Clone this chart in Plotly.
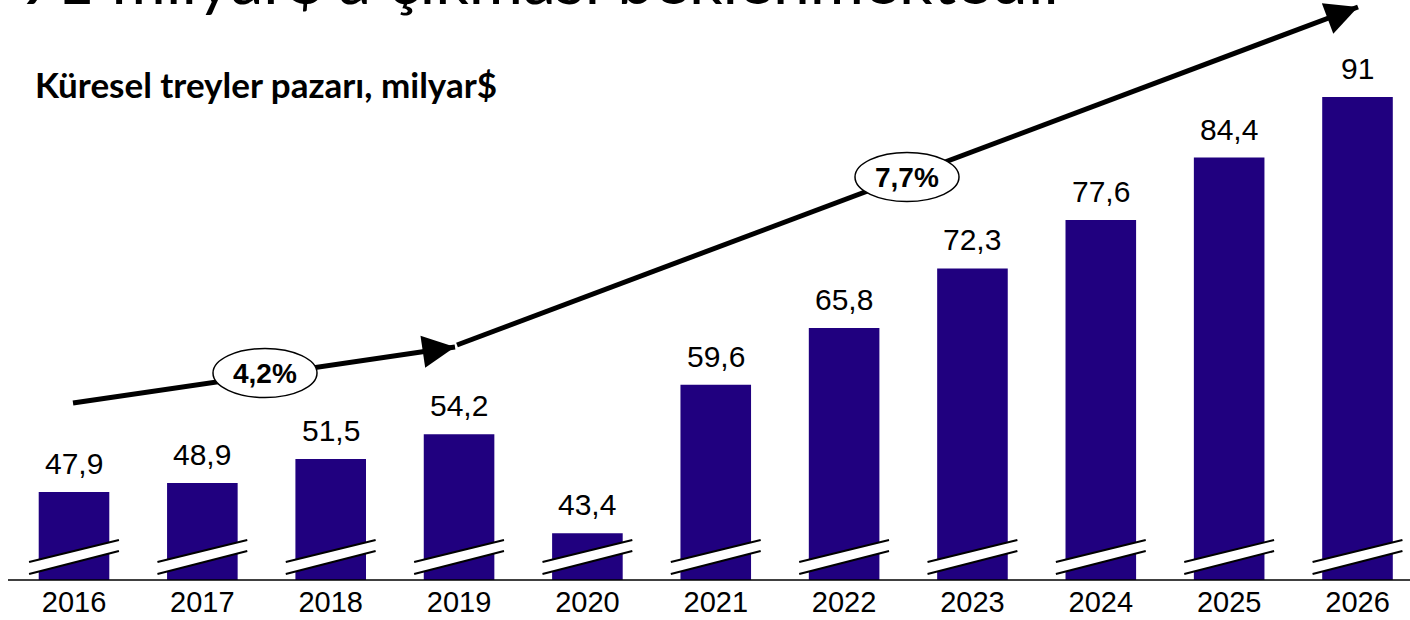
import math
import plotly.graph_objects as go

# ---- data ----
years = ["2016", "2017", "2018", "2019", "2020", "2021", "2022", "2023", "2024", "2025", "2026"]
values = [47.9, 48.9, 51.5, 54.2, 43.4, 59.6, 65.8, 72.3, 77.6, 84.4, 91.0]
value_labels = ["47,9", "48,9", "51,5", "54,2", "43,4", "59,6", "65,8", "72,3", "77,6", "84,4", "91"]
cagr_labels = ["4,2%", "7,7%"]
title_text = "91 milyar$'a çıkması beklenmektedir"
subtitle_text = "Küresel treyler pazarı, milyar$"

# ---- layout constants ----
W, H = 1410, 620
PLOT_H = 580            # plot area spans pixel rows 0..580
Y_MIN, Y_MAX = 38.3, 101.6
BAR_COLOR = "#20007f"
NUM_FONT = "Liberation Sans, Arial, sans-serif"
TXT_FONT = "Lato, Open Sans, sans-serif"


def px(x):
    return x / W


def py(y):
    return 1 - y / PLOT_H


fig = go.Figure()
fig.add_trace(go.Bar(
    x=list(range(len(years))), y=values, marker=dict(color=BAR_COLOR, line=dict(width=0)),
    width=0.55, hoverinfo="skip", showlegend=False,
))

shapes = []
annotations = []

# broken-axis marks on each bar
half = 0.35
for i in range(len(years)):
    top_l, top_r = 40.26, 42.66
    bot_l, bot_r = 38.95, 41.46
    shapes.append(dict(type="path", xref="x", yref="y",
                       path=f"M {i-half},{bot_l} L {i+half},{bot_r} L {i+half},{top_r} L {i-half},{top_l} Z",
                       fillcolor="white", line=dict(width=0), layer="above"))
    shapes.append(dict(type="line", xref="x", yref="y", x0=i-half, y0=top_l, x1=i+half, y1=top_r,
                       line=dict(color="black", width=2), layer="above"))
    shapes.append(dict(type="line", xref="x", yref="y", x0=i-half, y0=bot_l, x1=i+half, y1=bot_r,
                       line=dict(color="black", width=2), layer="above"))

# baseline axis line
shapes.append(dict(type="line", xref="paper", yref="paper", x0=px(8), x1=1, y0=0, y1=0,
                   line=dict(color="black", width=1.5), layer="above"))

# trend arrow lines
seg1 = (73, 403, 455, 347)
seg2 = (457, 345, 1358, 7)
for (x0, y0, x1, y1) in (seg1, seg2):
    shapes.append(dict(type="line", xref="paper", yref="paper", x0=px(x0), y0=py(y0), x1=px(x1), y1=py(y1),
                       line=dict(color="black", width=5), layer="above"))

# ellipses
ellipses = [(265, 373), (907, 177)]
EW, EH = 104, 49
for (cx, cy) in ellipses:
    shapes.append(dict(type="circle", xref="paper", yref="paper",
                       x0=px(cx - EW / 2), x1=px(cx + EW / 2), y0=py(cy + EH / 2), y1=py(cy - EH / 2),
                       fillcolor="white", line=dict(color="black", width=1.5), layer="above"))
for (cx, cy), lab in zip(ellipses, cagr_labels):
    annotations.append(dict(x=px(cx), y=py(cy), xref="paper", yref="paper", text=f"<b>{lab}</b>",
                            showarrow=False, xanchor="center", yanchor="middle",
                            font=dict(family=NUM_FONT, size=28, color="black")))

# arrowheads
for (x0, y0, x1, y1) in (seg1, seg2):
    d = math.hypot(x1 - x0, y1 - y0)
    ux, uy = (x1 - x0) / d, (y1 - y0) / d
    annotations.append(dict(x=px(x1), y=py(y1), xref="paper", yref="paper", text="",
                            showarrow=True, axref="pixel", ayref="pixel",
                            ax=-ux * 20, ay=-uy * 20, arrowhead=2, arrowsize=1.3, arrowwidth=5,
                            arrowcolor="black", standoff=0))

# value labels
for i, (v, lab) in enumerate(zip(values, value_labels)):
    annotations.append(dict(x=i, y=v, xref="x", yref="y", text=lab, showarrow=False,
                            xanchor="center", yanchor="bottom", yshift=10,
                            font=dict(family=NUM_FONT, size=30, color="black")))

# subtitle
annotations.append(dict(x=px(33), y=py(61), xref="paper", yref="paper", text=f"<b>{subtitle_text}</b>",
                        showarrow=False, xanchor="left", yanchor="top",
                        font=dict(family=TXT_FONT, size=35, color="black")))
# cut-off title
annotations.append(dict(x=px(16), y=1, xref="paper", yref="paper", text=title_text,
                        showarrow=False, xanchor="left", yanchor="bottom", yshift=-20,
                        font=dict(family=TXT_FONT, size=66, color="black")))

fig.update_layout(
    width=W, height=H,
    margin=dict(l=0, r=0, t=0, b=H - PLOT_H, autoexpand=False),
    paper_bgcolor="white", plot_bgcolor="white",
    shapes=shapes, annotations=annotations,
    xaxis=dict(tickmode="array", tickvals=list(range(len(years))), ticktext=years,
               range=[-0.5766, 10.409], showgrid=False, zeroline=False, showline=False,
               ticks="", ticklabelstandoff=2, automargin=False,
               tickfont=dict(family=NUM_FONT, size=29, color="black")),
    yaxis=dict(range=[Y_MIN, Y_MAX], visible=False),
)

fig.write_html("out.html", config={"displayModeBar": False},
               post_script="document.body.style.margin='0';document.body.style.overflow='hidden';")
